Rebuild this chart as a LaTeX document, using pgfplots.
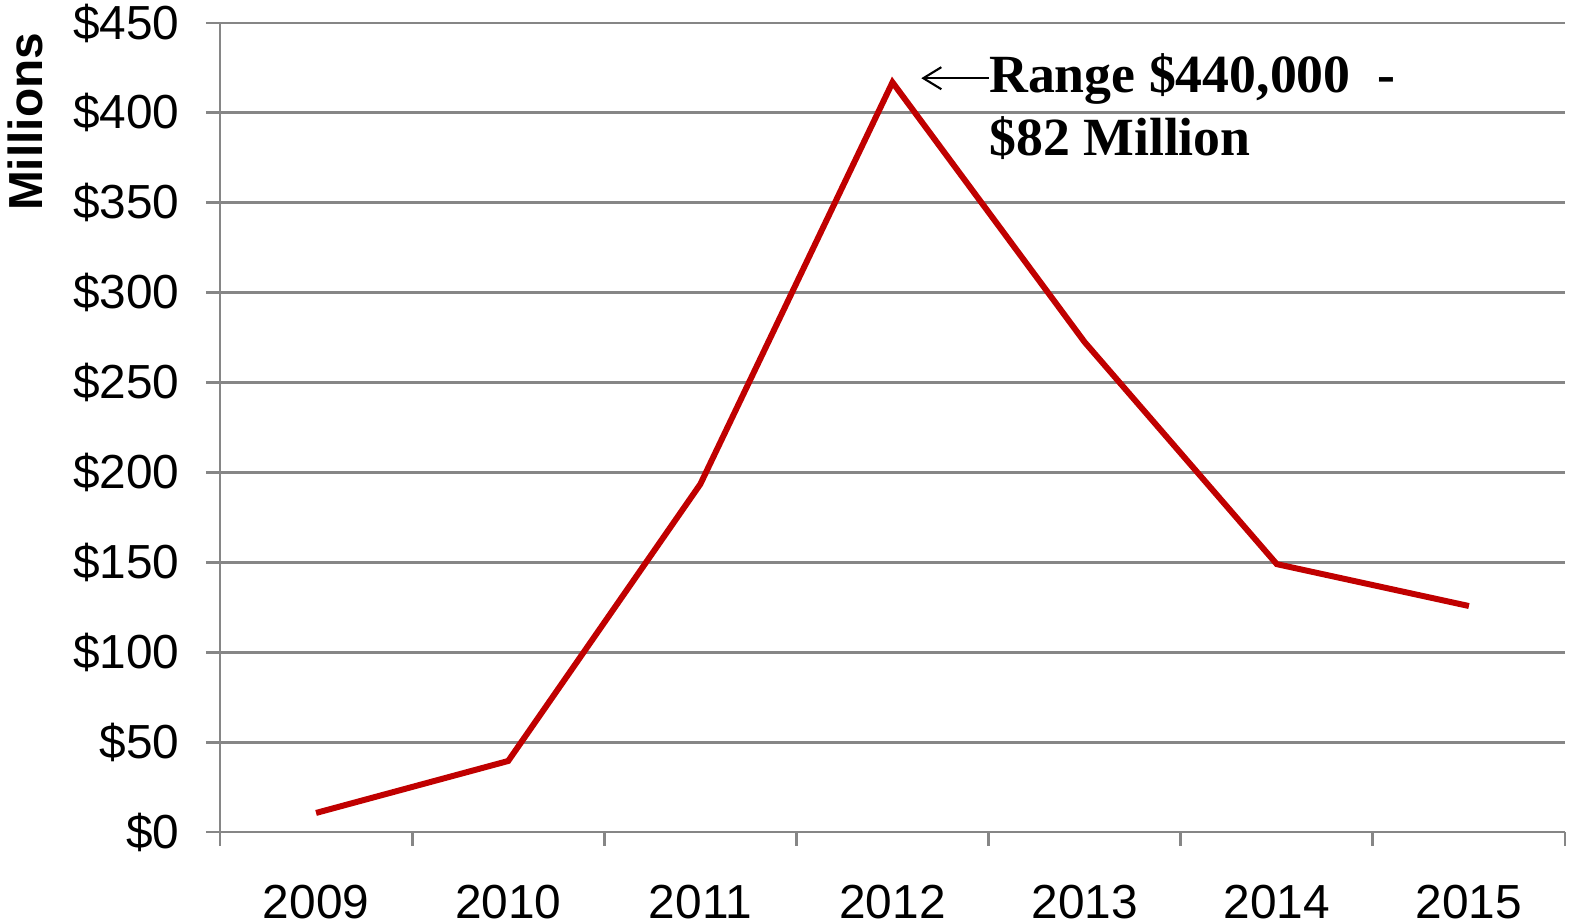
\documentclass[border=0pt]{standalone}
\usepackage{pgfplots}
\pgfplotsset{compat=1.18}
\usetikzlibrary{arrows.meta}
\usepackage{fontspec}
\setmainfont{Liberation Sans}
\newfontfamily\timesfont{Liberation Serif}
\definecolor{linered}{RGB}{192,0,0}
\definecolor{axgray}{RGB}{134,134,134}
\begin{document}
\begin{tikzpicture}
\begin{axis}[
  scale only axis,
  width=13.45cm, height=8.09cm,
  xmin=-0.5, xmax=6.5,
  ymin=0, ymax=450,
  axis x line=bottom, axis y line=left,
  axis line style={draw=axgray, line width=0.8pt, -},
  tick style={draw=axgray, line width=0.8pt},
  tick align=outside,
  major tick length=0.14cm,
  xtick={-0.5,0.5,...,6.5}, xticklabels={},
  extra x ticks={0,1,2,3,4,5,6},
  extra x tick labels={2009,2010,2011,2012,2013,2014,2015},
  extra x tick style={major tick length=0pt, grid=none},
  ytick={0,50,...,450},
  yticklabels={\$0,\$50,\$100,\$150,\$200,\$250,\$300,\$350,\$400,\$450},
  ymajorgrids,
  grid style={draw=axgray, line width=0.8pt},
  ticklabel style={font=\fontsize{13.6}{16}\selectfont, text=black},
  xticklabel style={inner sep=0pt, yshift=-0.52cm},
  yticklabel style={xshift=-0.14cm},
  clip=false,
]
\addplot[linered, line width=1.7pt, mark=none] coordinates {
  (0,10.6) (1,39.5) (2,193.5) (3,417) (4,272.5) (5,149) (6,125.7)
};
\draw[-{Straight Barb[length=1.8mm,width=2.2mm]}, line width=0.6pt] (axis cs:3.5,419.3) -- (axis cs:3.15,419.3);
\node[anchor=base west, inner sep=0pt, font=\timesfont\bfseries\fontsize{15.3}{18}\selectfont]
  at (axis cs:3.5,411.6) {Range \$440,000\ \ -};
\node[anchor=base west, inner sep=0pt, font=\timesfont\bfseries\fontsize{15.3}{18}\selectfont]
  at (axis cs:3.5,376.5) {\$82 Million};
\node[rotate=90, font=\bfseries\fontsize{13.6}{16}\selectfont] at ([xshift=-1.95cm]axis cs:-0.5,395) {Millions};
\end{axis}
\pgfresetboundingbox
\path[use as bounding box] (0,0) ++(-2.2cm,-0.92cm) rectangle ++(15.7cm,9.24cm);
\end{tikzpicture}
\end{document}
